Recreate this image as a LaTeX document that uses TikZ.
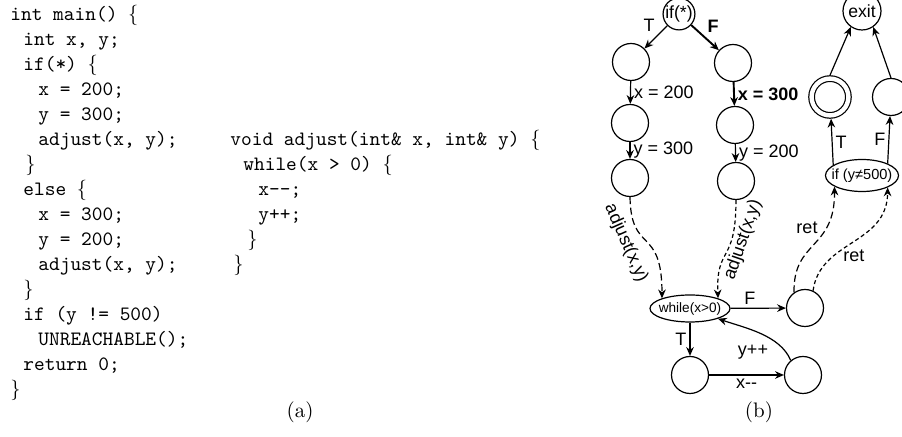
\documentclass[tikz,border=0pt]{standalone}
\usepackage{fontspec}
\newfontfamily\cfgfont{Liberation Sans}
\usetikzlibrary{shapes.geometric, arrows.meta, positioning, calc}
\newcommand{\lbrc}{\textrm{\{}}
\newcommand{\rbrc}{\textrm{\}}}

\begin{document}
\begin{tikzpicture}[x=0.5pt, y=-0.5pt,
    code/.style={anchor=base west, inner sep=0pt, font=\fontsize{10.2}{12}\selectfont\ttfamily},
    subcap/.style={anchor=base, inner sep=0pt, font=\fontsize{10.5}{12}\selectfont\rmfamily},
    st/.style={circle, draw, semithick, minimum size=18.5pt, inner sep=0pt, font=\cfgfont\fontsize{8.8}{10}\selectfont},
    cond/.style={ellipse, draw, semithick, inner xsep=-8pt, inner ysep=-4pt},
    lbl/.style={inner sep=1.5pt, font=\cfgfont\fontsize{9}{10}\selectfont},
    blbl/.style={lbl, font=\cfgfont\bfseries\fontsize{9}{10}\selectfont},
    arr/.style={-{Stealth[length=4.4pt, width=3.8pt]}, semithick},
    barr/.style={arr, line width=0.95pt},
    dlong/.style={arr, dash pattern=on 3.5pt off 1.8pt},
    dshort/.style={arr, dash pattern=on 2pt off 1.4pt}
]
\useasboundingbox (0,0) rectangle (902,437);

\foreach \xx/\txt [count=\i] in {
    10/{int main() \lbrc},
    23/{int x, y;},
    23/{if(*) \lbrc},
    38/{x = 200;},
    38/{y = 300;},
    38/{adjust(x, y);},
    25/{\rbrc},
    23/{else \lbrc},
    38/{x = 300;},
    38/{y = 200;},
    38/{adjust(x, y);},
    23/{\rbrc},
    23/{if (y != 500)},
    38/{UNREACHABLE();},
    23/{return 0;},
    10/{\rbrc}}
  \node[code] (main\i) at (\xx,{20.7+25*(\i-1)}) {\txt};
\foreach \xx/\txt [count=\i from 6] in {
    230/{void adjust(int\& x, int\& y) \lbrc},
    243/{while(x > 0) \lbrc},
    258/{x-\kern0pt-;},
    258/{y++;},
    247/{\rbrc},
    233/{\rbrc}}
  \node[code] (adj\i) at (\xx,{20.7+25*(\i-1)}) {\txt};

\node[subcap] (capa) at (300,418) {(a)};
\node[subcap] (capb) at (759,418) {(b)};

\node[st, minimum size=15.5pt] (ifs) at (679,14) {if(*)};
\node[st] (l1) at (631,62) {};
\node[st] (l2) at (630,123) {};
\node[st] (l3) at (630,178) {};
\node[st] (r1) at (733,63) {};
\node[st] (r2) at (735,125) {};
\node[st] (r3) at (736,181) {};
\node[cond, minimum width=40pt, minimum height=13.5pt, font=\cfgfont\fontsize{6.8}{8}\selectfont] (wh) at (690,308.5) {while(x>0)};
\node[st] (fo) at (805,308) {};
\node[st] (b1) at (690,375) {};
\node[st] (b2) at (803,375) {};
\node[cond, minimum width=36.5pt, minimum height=16pt, font=\cfgfont\fontsize{7.3}{9}\selectfont] (ify) at (862,175.5) {if (y≠500)};
\node[st, double, double distance=2.2pt, minimum size=18.4pt, outer sep=1.7pt] (acc) at (830,97) {};
\node[st] (rej) at (891,97) {};
\node[st, minimum size=19pt] (exit) at (862,11) {exit};

\draw[arr] (ifs) -- node[lbl, pos=.4, above left] {T} (l1);
\draw[barr] (ifs) -- node[blbl, pos=.45, above right] {F} (r1);
\draw[arr] (l1) -- node[lbl, right] {x = 200} (l2);
\draw[arr] (l2) -- node[lbl, right] {y = 300} (l3);
\draw[barr] (r1) -- node[blbl, right] {x = 300} (r2);
\draw[arr] (r2) -- node[lbl, right] {y = 200} (r3);
\draw[dlong] (l3.south) .. controls (631,255) and (662,225) .. (wh.160)
  node[lbl, rotate=-66] at (626,243) {adjust(x,y)};
\draw[dshort] (r3.south) .. controls (736,265) and (716,245) .. (wh.20)
  node[lbl, rotate=71] at (743,240) {adjust(x,y)};
\draw[arr] (wh) -- node[lbl, pos=.35, above] {F} (fo);
\draw[arr] (wh) -- node[lbl, left] {T} (b1);
\draw[arr] (b1) -- node[lbl, below] {x-\kern0pt-} (b2);
\draw[arr] (b2.130) .. controls (780,335) and (745,328) .. (wh.-20)
  node[lbl] at (753,352) {y++};
\draw[dlong] (fo.125) .. controls (793,240) and (835,250) .. (ify.202)
  node[lbl] at (807,228) {ret};
\draw[dshort] (fo.65) .. controls (820,240) and (887,245) .. (ify.-25)
  node[lbl] at (854,256) {ret};
\draw[arr] (ify.160) -- node[lbl, right] {T} (acc);
\draw[arr] (ify.25) -- node[lbl, left] {F} (rej);
\draw[arr] (acc.north) -- (exit.235);
\draw[arr] (rej.north) -- (exit.305);
\end{tikzpicture}
\end{document}
